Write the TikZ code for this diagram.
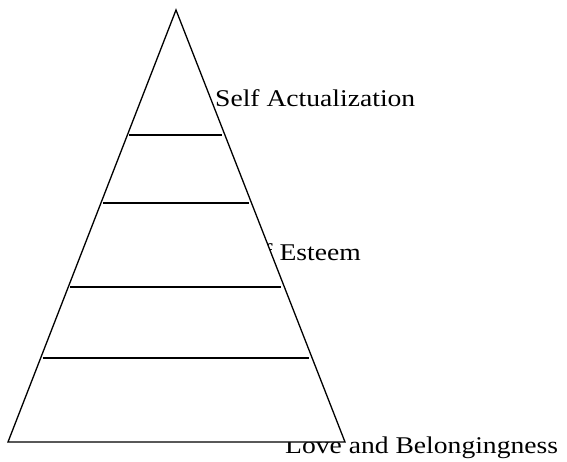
\documentclass[tikz,border=0pt]{standalone}
\usepackage{fontspec}
\newfontfamily\levelfont{Liberation Serif}[FakeStretch=1.15]
\usepackage{tikz}
\usetikzlibrary{calc}

\begin{document}
\begin{tikzpicture}[x=1pt, y=-1pt,
    level/.style={font=\levelfont\fontsize{24}{28}\selectfont, inner sep=0pt},
    tier/.style={line width=1.4pt}]
  \useasboundingbox (0,0) rectangle (567,462);

  % Labels (partly hidden behind the pyramid)
  \node[level, anchor=base west] (actual) at (215,107) {Self Actualization};
  \node[level, anchor=base east] (esteem) at (361,261) {Self Esteem};
  \node[level, anchor=base west] (love) at (285,453) {Love and Belongingness};

  % Pyramid
  \coordinate (apex) at (176,10);
  \coordinate (bl) at (8,442);
  \coordinate (br) at (345,442);
  \draw[line width=1.3pt, fill=white] (apex) -- (bl) -- (br) -- cycle;

  % Tiers
  \foreach \t in {0.289, 0.447, 0.641, 0.806}
    \draw[tier] ($(apex)!\t!(bl)+(2,0)$) -- ($(apex)!\t!(br)+(-3,0)$);
\end{tikzpicture}
\end{document}
